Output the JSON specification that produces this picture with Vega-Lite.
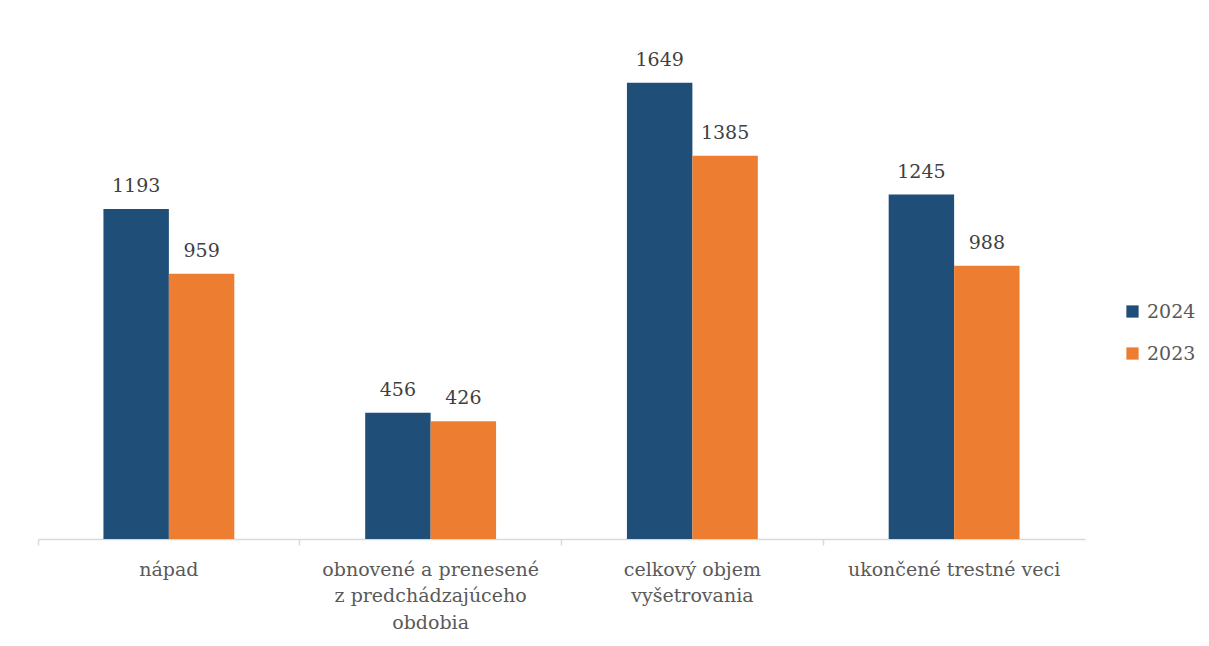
{
  "$schema": "https://vega.github.io/schema/vega-lite/v6.json",
  "width": 1047,
  "height": 498,
  "autosize": "none",
  "padding": {"left": 38, "top": 41, "right": 124, "bottom": 107},
  "background": "white",
  "data": {
    "values": [
      {"kategoria": "nápad", "rok": "2024", "pocet": 1193},
      {"kategoria": "nápad", "rok": "2023", "pocet": 959},
      {"kategoria": "obnovené a prenesené z predchádzajúceho obdobia", "rok": "2024", "pocet": 456},
      {"kategoria": "obnovené a prenesené z predchádzajúceho obdobia", "rok": "2023", "pocet": 426},
      {"kategoria": "celkový objem vyšetrovania", "rok": "2024", "pocet": 1649},
      {"kategoria": "celkový objem vyšetrovania", "rok": "2023", "pocet": 1385},
      {"kategoria": "ukončené trestné veci", "rok": "2024", "pocet": 1245},
      {"kategoria": "ukončené trestné veci", "rok": "2023", "pocet": 988}
    ]
  },
  "encoding": {
    "x": {
      "field": "kategoria",
      "type": "nominal",
      "sort": null,
      "title": null,
      "scale": {"paddingInner": 0.5, "paddingOuter": 0.25},
      "axis": {
        "labelAngle": 0,
        "bandPosition": -0.5,
        "domainColor": "#d9d9d9",
        "domainWidth": 1.5,
        "tickColor": "#d9d9d9",
        "tickWidth": 1.5,
        "tickSize": 6,
        "labelPadding": 15,
        "labelLimit": 0,
        "labelFont": "DejaVu Serif",
        "labelFontSize": 19,
        "labelColor": "#595959",
        "labelLineHeight": 26.5,
        "labelBaseline": "top",
        "labelExpr": "datum.label == 'obnovené a prenesené z predchádzajúceho obdobia' ? ['obnovené a prenesené', 'z predchádzajúceho', 'obdobia'] : datum.label == 'celkový objem vyšetrovania' ? ['celkový objem', 'vyšetrovania'] : datum.label"
      }
    },
    "xOffset": {"field": "rok", "type": "nominal", "sort": ["2024", "2023"]},
    "y": {
      "field": "pocet",
      "type": "quantitative",
      "scale": {"domain": [0, 1800]},
      "axis": null
    }
  },
  "layer": [
    {
      "mark": {"type": "bar"},
      "encoding": {
        "color": {
          "field": "rok",
          "type": "nominal",
          "title": null,
          "scale": {"domain": ["2024", "2023"], "range": ["#1F4E79", "#ED7D31"]},
          "legend": {
            "orient": "none",
            "legendX": 1085,
            "legendY": 261,
            "symbolType": "square",
            "symbolSize": 150,
            "labelFont": "DejaVu Serif",
            "labelFontSize": 19,
            "labelColor": "#595959",
            "rowPadding": 22,
            "labelOffset": 5
          }
        }
      }
    },
    {
      "mark": {
        "type": "text",
        "baseline": "alphabetic",
        "dy": -17,
        "font": "DejaVu Serif",
        "fontSize": 19,
        "color": "#404040"
      },
      "encoding": {
        "text": {"field": "pocet", "type": "quantitative"}
      }
    }
  ],
  "config": {
    "view": {"stroke": null}
  }
}
